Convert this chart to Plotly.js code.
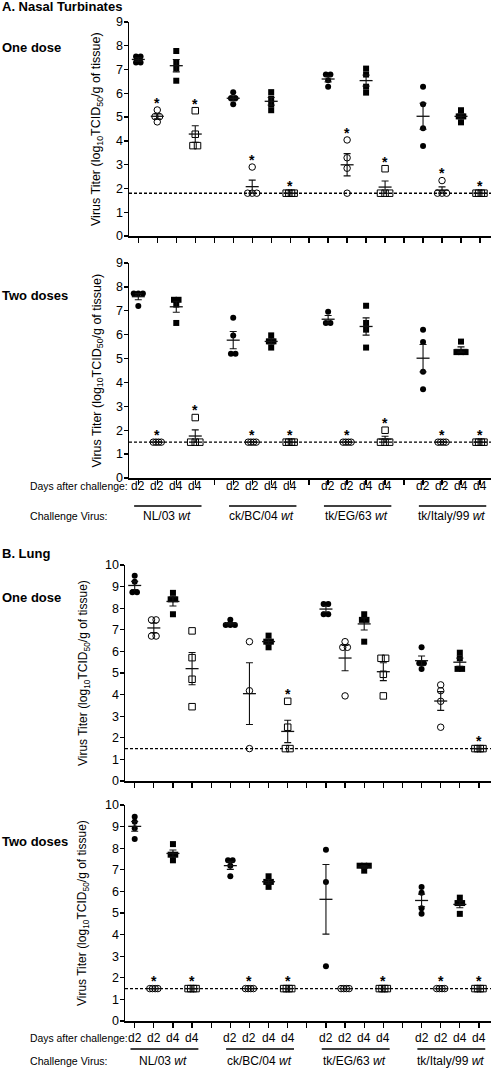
<!DOCTYPE html>
<html>
<head>
<meta charset="utf-8">
<script src="https://cdn.plot.ly/plotly-3.0.1.min.js"></script>
<style>html,body{margin:0;padding:0;background:#fff;}#chart{width:491px;height:1070px;}</style>
</head>
<body>
<div id="chart"></div>
<script>
// ---------- DATA ----------
const positions = [1,2,3,4, 6,7,8,9, 11,12,13,14, 16,17,18,19];
const dayLabels = ['d2','d2','d4','d4'];
const virusNames = ['NL/03','ck/BC/04','tk/EG/63','tk/Italy/99'];

// group order in each virus: d2 filled circle, d2 open circle, d4 filled square, d4 open square
const nasalOneDose = [
  [7.55,7.55,7.3,7.3],[5.3,5.02,5.02,4.8],[7.78,7.29,7.05,6.53],[5.27,4.28,3.8,3.8],
  [6.05,5.79,5.79,5.54],[2.9,1.8,1.8,1.8],[6.05,5.78,5.54,5.29],[1.8,1.8,1.8,1.8],
  [6.79,6.79,6.55,6.28],[4.04,3.29,2.85,1.8],[7.04,6.79,6.28,6.03],[2.83,1.8,1.8,1.8],
  [6.28,5.54,4.53,3.79],[2.33,1.8,1.8,1.8],[5.29,5.03,5.03,4.78],[1.8,1.8,1.8,1.8]
];
const nasalTwoDoses = [
  [7.72,7.72,7.72,7.2],[1.5,1.5,1.5,1.5],[7.46,7.46,7.26,6.49],[2.53,1.5,1.5,1.5],
  [6.71,5.97,5.2,5.2],[1.5,1.5,1.5,1.5],[5.97,5.72,5.72,5.46],[1.5,1.5,1.5,1.5],
  [6.96,6.49,6.49],[1.5,1.5,1.5,1.5],[7.21,6.49,6.21,5.46],[2.0,1.5,1.5,1.5],
  [6.21,5.69,4.45,3.71],[1.5,1.5,1.5,1.5],[5.71,5.27,5.27,5.27],[1.5,1.5,1.5,1.5]
];
const lungOneDose = [
  [9.5,9.23,8.74,8.74],[7.46,7.46,6.71,6.71],[8.71,8.41,8.41,7.72],[6.95,5.71,4.71,3.44],
  [7.46,7.22,7.22,7.22],[6.45,4.18,1.5],[6.73,6.45,6.45,6.19],[3.69,2.49,1.5,1.5],
  [8.2,8.2,7.72,7.72],[6.45,6.19,6.19,3.94],[7.72,7.46,7.46,6.45],[5.68,5.68,4.94,3.94],
  [6.19,5.45,5.45,5.19],[4.45,4.18,3.69,2.49],[5.94,5.68,5.19,5.19],[1.5,1.5,1.5,1.5]
];
const lungTwoDoses = [
  [9.46,9.23,8.92,8.43],[1.5,1.5,1.5,1.5],[8.19,7.7,7.7,7.44],[1.5,1.5,1.5,1.5],
  [7.44,7.44,7.19,6.7],[1.5,1.5,1.5,1.5],[6.7,6.44,6.44,6.21],[1.5,1.5,1.5,1.5],
  [7.93,6.44,2.53],[1.5,1.5,1.5,1.5],[7.19,7.19,7.19,6.96],[1.5,1.5,1.5,1.5],
  [6.2,5.94,5.22,4.96],[1.5,1.5,1.5,1.5],[5.71,5.46,5.46,4.96],[1.5,1.5,1.5,1.5]
];
// significance asterisks (1 = shown)
const nasalOneDoseStars = [0,1,0,1, 0,1,0,1, 0,1,0,1, 0,1,0,1];
const nasalTwoDosesStars = [0,1,0,1, 0,1,0,1, 0,1,0,1, 0,1,0,1];
const lungOneDoseStars  = [0,0,0,0, 0,0,0,1, 0,0,0,0, 0,0,0,1];
const lungTwoDosesStars = [0,1,0,1, 0,1,0,1, 0,0,0,1, 0,1,0,1];
// detection limits
const nasalOneDoseLimit = 1.8, nasalTwoDosesLimit = 1.5, lungOneDoseLimit = 1.5, lungTwoDosesLimit = 1.5;

// ---------- DRAWING ----------
const FONT = 'Liberation Sans, Arial, Helvetica, sans-serif';
const kinds = [
  {symbol:'circle', size:6, lw:0},
  {symbol:'circle-open', size:6.5, lw:1},
  {symbol:'square', size:6, lw:0},
  {symbol:'square-open', size:6.5, lw:1}
];

function jitter(vals, thr) {
  const idx = vals.map((v,i)=>i).sort((a,b)=>vals[b]-vals[a]);
  const off = new Array(vals.length).fill(0);
  let cl = [idx[0]];
  const flush = () => {
    const n = cl.length; const step = n >= 4 ? 0.14 : 0.24;
    cl.forEach((k,j)=>{ off[k] = (j-(n-1)/2)*step; });
  };
  for (let i=1;i<idx.length;i++) {
    if (vals[cl[cl.length-1]] - vals[idx[i]] < thr) cl.push(idx[i]);
    else { flush(); cl = [idx[i]]; }
  }
  flush();
  return off;
}
function meanOf(a){ return a.reduce((s,v)=>s+v,0)/a.length; }
function semOf(a){ const m = meanOf(a); const ss = a.reduce((s,v)=>s+(v-m)*(v-m),0); return Math.sqrt(ss/(a.length-1))/Math.sqrt(a.length); }

const panels = [
  {data:nasalOneDose, stars:nasalOneDoseStars, lod:nasalOneDoseLimit, xa:'x', ya:'y', starOff:0.3},
  {data:nasalTwoDoses, stars:nasalTwoDosesStars, lod:nasalTwoDosesLimit, xa:'x2', ya:'y2', starOff:0.3},
  {data:lungOneDose, stars:lungOneDoseStars, lod:lungOneDoseLimit, xa:'x3', ya:'y3', starOff:0.33},
  {data:lungTwoDoses, stars:lungTwoDosesStars, lod:lungTwoDosesLimit, xa:'x4', ya:'y4', starOff:0.33}
];

const traces = [];
const shapes = [];
const annotations = [];
panels.forEach(p => {
  shapes.push({type:'line', xref:p.xa+' domain', yref:p.ya, x0:0, x1:1, y0:p.lod, y1:p.lod,
    line:{color:'#000', width:1.4, dash:'3px,2px'}, layer:'below'});
  kinds.forEach((k, ki) => {
    const xs = [], ys = [];
    p.data.forEach((vals, g) => {
      if (g % 4 !== ki) return;
      const off = jitter(vals, 0.2);
      vals.forEach((v,i)=>{ xs.push(positions[g] + off[i]); ys.push(v); });
    });
    traces.push({type:'scatter', mode:'markers', xaxis:p.xa, yaxis:p.ya, x:xs, y:ys, cliponaxis:false,
      hoverinfo:'skip',
      marker:{symbol:k.symbol, size:k.size, color:'#000', line:{color:'#000', width:k.lw}}});
  });
  traces.push({type:'scatter', mode:'markers', xaxis:p.xa, yaxis:p.ya, cliponaxis:false, hoverinfo:'skip',
    x:positions, y:p.data.map(meanOf),
    marker:{symbol:'line-ew', size:9.3, color:'#000', line:{color:'#111', width:1.3}},
    error_y:{type:'data', array:p.data.map(semOf), visible:true, color:'#111', thickness:1.1, width:3.5}});
  p.data.forEach((vals, g) => {
    if (!p.stars[g]) return;
    annotations.push({text:'<b>*</b>', xref:p.xa, yref:p.ya, x:positions[g], y:Math.max(...vals) + p.starOff,
      showarrow:false, xanchor:'center', yanchor:'middle', font:{family:FONT, size:14, color:'#000'}});
  });
});

const W = 491, H = 1070;
const px = v => v / W;
const py = v => 1 - v / H;

function xAxis(left, range, anchor) {
  return {domain:[px(left), 1], range:range, anchor:anchor, showline:true, linewidth:1.5, linecolor:'#000',
    ticks:'outside', ticklen:5, tickwidth:1.3, tickcolor:'#000', tickmode:'array',
    tickvals:[1,2,3,4,5,6,7,8,9,10,11,12,13,14,15,16,17,18,19], showticklabels:false,
    showgrid:false, zeroline:false};
}
function yAxis(top, bottom, range, anchor) {
  return {domain:[py(bottom), py(top)], range:range, anchor:anchor, showline:true, linewidth:1.5, linecolor:'#000',
    ticks:'outside', ticklen:4, tickwidth:1.3, tickcolor:'#000', dtick:1, tick0:0, ticklabelstandoff:-2,
    tickfont:{family:FONT, size:12.5, color:'#000'}, showgrid:false, zeroline:false};
}

function addText(text, x, y, opts) {
  annotations.push(Object.assign({text:text, xref:'paper', yref:'paper', x:px(x), y:py(y), showarrow:false,
    xanchor:'left', yanchor:'middle', font:{family:FONT, size:12, color:'#000'}}, opts||{}));
}
const bold = {font:{family:FONT, size:13, color:'#000'}};
addText('<b>A. Nasal Turbinates</b>', 0, 7, bold);
addText('<b>One dose</b>', 0, 48, bold);
addText('<b>Two doses</b>', 0, 295, bold);
addText('<b>B. Lung</b>', 0, 553, bold);
addText('<b>One dose</b>', 0, 597, bold);
addText('<b>Two doses</b>', 0, 841, bold);

const yTitle = 'Virus Titer (log<sub>10</sub>TCID<sub>50</sub>/g of tissue)';
[[97,129],[97,370.5],[84,673],[83,913]].forEach(([x,y],i) => {
  addText(yTitle, x, y, {textangle:-90, xanchor:'center', yanchor:'middle',
    font:{family:FONT, size:i<2?12.5:12, color:'#000'}});
});

[['x2',486,516,506],['x4',1038,1061,1049]].forEach(([xr, dayY, virY, lineY]) => {
  addText('Days after challenge:', 28, dayY, {font:{family:FONT, size:10.4, color:'#000'}});
  addText('Challenge Virus:', 28, virY, {font:{family:FONT, size:10.6, color:'#000'}});
  positions.forEach((pos, g) => {
    annotations.push({text:dayLabels[g%4], xref:xr, yref:'paper', x:pos, y:py(dayY), showarrow:false,
      xanchor:'center', yanchor:'middle', font:{family:FONT, size:12, color:'#000'}});
  });
  virusNames.forEach((name, v) => {
    const first = positions[v*4], last = positions[v*4+3];
    annotations.push({text:name + ' <i>wt</i>', xref:xr, yref:'paper', x:(first+last)/2, y:py(virY), showarrow:false,
      xanchor:'center', yanchor:'middle', font:{family:FONT, size:12, color:'#000'}});
    shapes.push({type:'line', xref:xr, yref:'paper', x0:first-0.22, x1:last+0.33, y0:py(lineY), y1:py(lineY),
      line:{color:'#000', width:1.3}});
  });
});

const nasalRange = [0.51, 19.58], lungRange = [0.493, 19.63];
const layout = {
  width:W, height:H, margin:{l:0,r:0,t:0,b:0}, paper_bgcolor:'#fff', plot_bgcolor:'rgba(0,0,0,0)',
  showlegend:false, font:{family:FONT, color:'#000'}, colorway:['#000'],
  xaxis: xAxis(129, nasalRange, 'y'),
  xaxis2: xAxis(129, nasalRange, 'y2'),
  xaxis3: xAxis(125, lungRange, 'y3'),
  xaxis4: xAxis(125, lungRange, 'y4'),
  yaxis: yAxis(22, 236, [0,9], 'x'),
  yaxis2: yAxis(263, 478, [0,9], 'x2'),
  yaxis3: yAxis(565, 781, [0,10], 'x3'),
  yaxis4: yAxis(805, 1021, [0,10], 'x4'),
  shapes: shapes,
  annotations: annotations
};
Plotly.newPlot('chart', traces, layout, {staticPlot:true, displayModeBar:false});
</script>
</body>
</html>
